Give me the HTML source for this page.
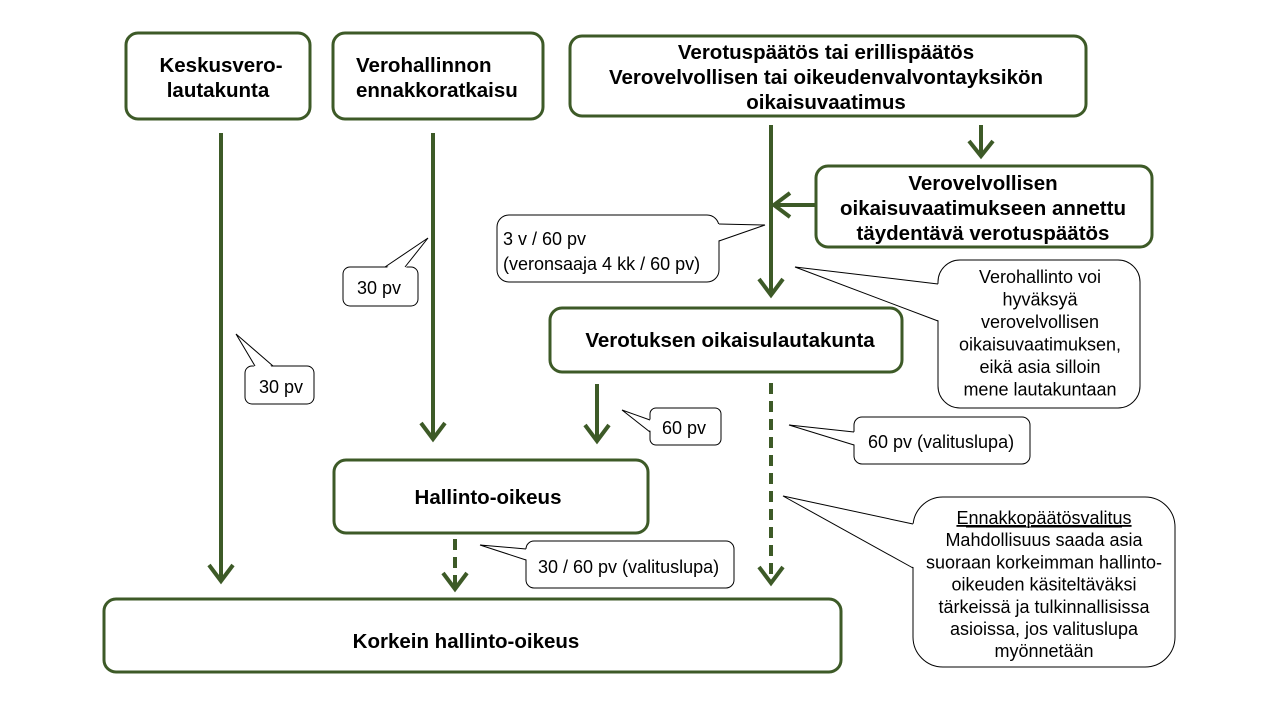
<!DOCTYPE html>
<html><head><meta charset="utf-8"><style>
html,body{margin:0;padding:0;background:#fff;}
svg{display:block;}
text{font-family:"Liberation Sans",Arial,sans-serif;}
.b{font-weight:bold;font-size:20.5px;fill:#000;}
.c{font-size:18px;fill:#000;}
</style></head><body>
<svg width="1280" height="720" viewBox="0 0 1280 720" xmlns="http://www.w3.org/2000/svg">
<g fill="#fff" stroke="#3d5a27" stroke-width="3">
<rect x="126" y="33" width="184" height="86" rx="12"/>
<rect x="333" y="33" width="210" height="86" rx="12"/>
<rect x="570" y="36" width="516" height="80" rx="12"/>
<rect x="816" y="166" width="336" height="81" rx="12"/>
<rect x="550" y="308" width="352" height="64" rx="12"/>
<rect x="334" y="460" width="314" height="73" rx="12"/>
<rect x="104" y="599" width="737" height="73" rx="12"/>
</g>
<g stroke="#3d5a27" stroke-width="4" fill="none">
<line x1="221" y1="133" x2="221" y2="581"/><polyline points="209,565 221,581 233,565"/>
<line x1="433" y1="133" x2="433" y2="439"/><polyline points="421,423 433,439 445,423"/>
<line x1="771" y1="125" x2="771" y2="295"/><polyline points="759,279 771,295 783,279"/>
<line x1="816" y1="205" x2="774" y2="205"/><polyline points="790,193 774,205 790,217"/>
<line x1="981" y1="125" x2="981" y2="156"/><polyline points="969,141 981,156 993,141"/>
<line x1="597" y1="384" x2="597" y2="441"/><polyline points="585,425 597,441 609,425"/>
<line x1="771" y1="383" x2="771" y2="583" stroke-dasharray="11,7"/><polyline points="759,567 771,583 783,567"/>
<line x1="455" y1="539" x2="455" y2="589" stroke-dasharray="11,7"/><polyline points="443,573 455,589 467,573"/>
</g>
<g fill="#fff" stroke="#000" stroke-width="1">
<rect x="245" y="366" width="69" height="38" rx="7"/>
<rect x="343" y="267" width="75" height="39" rx="7"/>
<rect x="497" y="215" width="222" height="67" rx="12"/>
<rect x="938" y="260" width="202" height="148" rx="22"/>
<rect x="650" y="408" width="71" height="37" rx="6"/>
<rect x="854" y="417" width="176" height="47" rx="8"/>
<rect x="526" y="541" width="208" height="47" rx="8"/>
<rect x="913" y="497" width="262" height="170" rx="30"/>
</g>
<g fill="#fff" stroke="none">
<polygon points="236,334 255,368 273,368"/>
<polygon points="428,238 385,269 405,269"/>
<polygon points="765,225 717,224 717,241"/>
<polygon points="795,267 940,284 940,321"/>
<polygon points="622,410 652,420 652,432"/>
<polygon points="789,425 856,432 856,445"/>
<polygon points="480,545 528,549 528,560"/>
<polygon points="783,496 915,524 915,568"/>
</g>
<g fill="none" stroke="#000" stroke-width="1">
<polyline points="255,366 236,334 273,366"/>
<polyline points="385,267 428,238 405,267"/>
<polyline points="719,224 765,225 719,241"/>
<polyline points="938,284 795,267 938,321"/>
<polyline points="650,420 622,410 650,432"/>
<polyline points="854,432 789,425 854,445"/>
<polyline points="526,549 480,545 526,560"/>
<polyline points="913,524 783,496 913,568"/>
</g>
<g class="b" text-anchor="middle">
<text x="221" y="72">Keskusvero-</text>
<text x="218" y="97">lautakunta</text>
<text x="356" y="72" text-anchor="start">Verohallinnon</text>
<text x="356" y="97" text-anchor="start">ennakkoratkaisu</text>
<text x="826" y="59">Verotuspäätös tai erillispäätös</text>
<text x="826" y="84">Verovelvollisen tai oikeudenvalvontayksikön</text>
<text x="826" y="109">oikaisuvaatimus</text>
<text x="983" y="190">Verovelvollisen</text>
<text x="983" y="215">oikaisuvaatimukseen annettu</text>
<text x="983" y="240">täydentävä verotuspäätös</text>
<text x="730" y="347">Verotuksen oikaisulautakunta</text>
<text x="488" y="504">Hallinto-oikeus</text>
<text x="466" y="648">Korkein hallinto-oikeus</text>
</g>
<g class="c">
<text x="259" y="393">30 pv</text>
<text x="357" y="294">30 pv</text>
<text x="503" y="245">3 v / 60 pv</text>
<text x="503" y="270">(veronsaaja 4 kk / 60 pv)</text>
<text x="662" y="434">60 pv</text>
<text x="868" y="448">60 pv (valituslupa)</text>
<text x="538" y="573">30 / 60 pv (valituslupa)</text>
<g text-anchor="middle">
<text x="1040" y="283">Verohallinto voi</text>
<text x="1040" y="305.5">hyväksyä</text>
<text x="1040" y="328">verovelvollisen</text>
<text x="1040" y="350.5">oikaisuvaatimuksen,</text>
<text x="1040" y="373">eikä asia silloin</text>
<text x="1040" y="395.5">mene lautakuntaan</text>
<text x="1044" y="524" text-decoration="underline">Ennakkopäätösvalitus</text>
<text x="1044" y="546.2">Mahdollisuus saada asia</text>
<text x="1044" y="568.4">suoraan korkeimman hallinto-</text>
<text x="1044" y="590.6">oikeuden käsiteltäväksi</text>
<text x="1044" y="612.8">tärkeissä ja tulkinnallisissa</text>
<text x="1044" y="635">asioissa, jos valituslupa</text>
<text x="1044" y="657.2">myönnetään</text>
</g>
</g>
<line x1="966" y1="527" x2="1122" y2="527" stroke="#000" stroke-width="1"/>
</svg>
</body></html>
